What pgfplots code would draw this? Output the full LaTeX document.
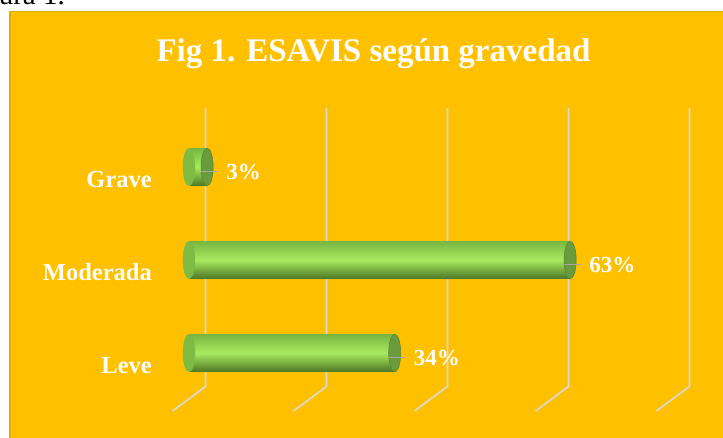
\documentclass[border=0pt]{standalone}
\usepackage{fontspec}
\setmainfont{Liberation Serif}
\usepackage{pgfplots}
\pgfplotsset{compat=1.18}
\definecolor{gold}{HTML}{FFC000}
\definecolor{goldedge}{HTML}{E3AD00}
\definecolor{gridgray}{HTML}{D9D9D9}
\definecolor{bartop}{HTML}{78B641}
\definecolor{barmid}{HTML}{A8EA5F}
\definecolor{barbot}{HTML}{4C7725}
\definecolor{capleft}{HTML}{7DBB45}
\definecolor{capright}{HTML}{6A9B3C}
\definecolor{capedge}{HTML}{5A8631}
\definecolor{leader}{HTML}{A6A6A6}

\pgfplotsset{
  cyl/.style={xbar, bar width=37.5pt, bar shift=0pt, draw=none,
    top color=bartop, bottom color=barbot, middle color=barmid,
    point meta=explicit symbolic,
    nodes near coords,
    nodes near coords style={anchor=west, xshift=19pt, yshift=-5pt,
      text=white, inner sep=0pt,
      font=\bfseries\fontsize{23}{26}\selectfont}},
}

\begin{document}
\begin{tikzpicture}
  \useasboundingbox (0,0) rectangle (723pt,-438pt);
  \clip (0,0) rectangle (723pt,-438pt);
  \fill[white] (0,0) rectangle (723pt,-438pt);
  % caption cut off at the top of the page
  \node[anchor=base east, inner sep=0pt, font=\fontsize{29}{32}\selectfont] at (65pt,-5pt) {Figura 1.};
  \filldraw[fill=gold, draw=goldedge, line width=1.5pt] (9.75pt,-11.75pt) rectangle (735pt,-450pt);
  \node[anchor=base, inner sep=0pt, text=white, font=\bfseries\fontsize{33}{36}\selectfont]
    at (373.5pt,-61.7pt) {Fig 1. ESAVIS según gravedad};
  % back wall grid with the floor edge
  \foreach \x in {205.5,326.5,447.5,568.5,689.5}
    \draw[gridgray, line width=1.6pt] (\x pt,-108pt) -- ++(0,-278.5pt) -- ++(-33pt,-24.5pt);

  \begin{axis}[
    at={(189pt,-399.5pt)}, anchor=south west,
    scale only axis, width=484pt, height=279pt,
    xmin=0, xmax=80, ymin=-0.5, ymax=2.5,
    axis line style={draw=none},
    major tick length=0pt,
    xtick=\empty,
    ytick={0,1,2},
    yticklabels={Leve,Moderada,Grave},
    yticklabel style={text=white, inner sep=0pt, anchor=east,
      xshift=-37pt, yshift=-12.5pt,
      font=\bfseries\fontsize{24.5}{27}\selectfont},
    clip=false,
  ]
    % rounded left ends
    \addplot[only marks, color=capleft, mark=*, mark size=18.75pt,
      mark options={xscale=0.32, fill=capleft, draw=capleft}]
      coordinates {(0,0) (0,1) (0,2)};
    \addplot[cyl] coordinates {(34,0) [34\%]};
    \addplot[cyl] coordinates {(63,1) [63\%]};
    \addplot[cyl] coordinates {(3,2) [3\%]};
    % flat right faces
    \addplot[only marks, color=capright, mark=*, mark size=18.75pt,
      mark options={xscale=0.32, fill=capright, draw=capedge, line width=0.6pt}]
      coordinates {(34,0) (63,1) (3,2)};
    % leader lines to the labels
    \addplot[only marks, color=leader, mark=-, mark size=8.5pt,
      mark options={xshift=2.5pt, yshift=-4.5pt, draw=leader, line width=1.5pt}]
      coordinates {(34,0) (63,1) (3,2)};
  \end{axis}
\end{tikzpicture}
\end{document}
